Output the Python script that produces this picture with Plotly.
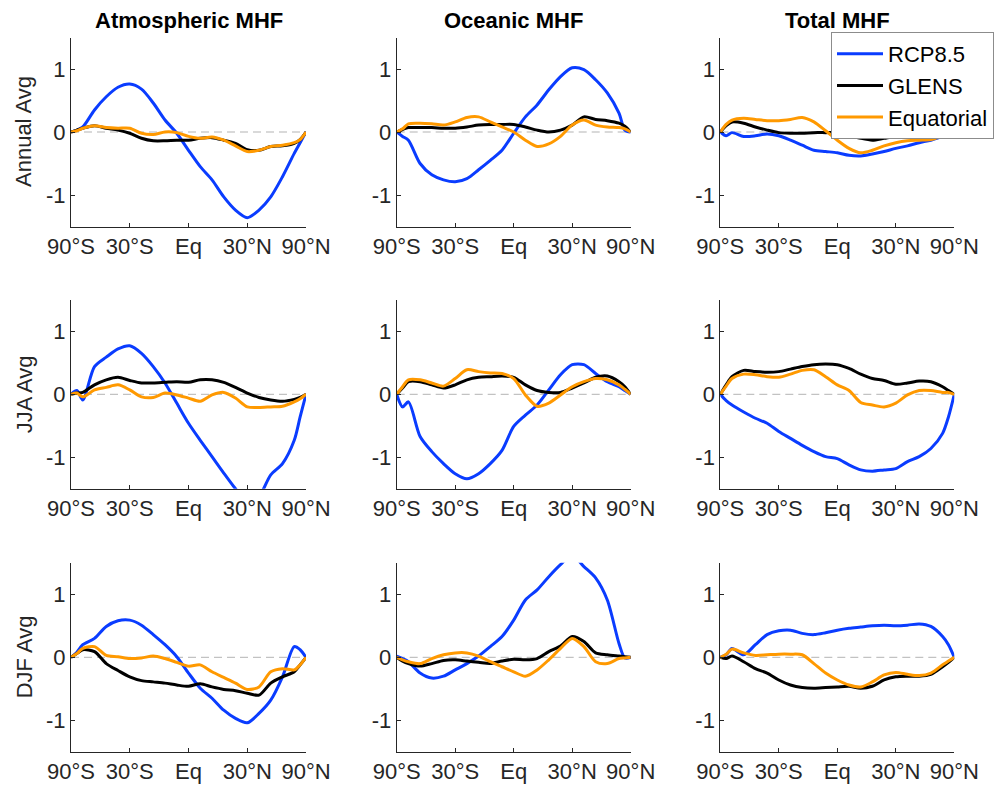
import plotly.graph_objects as go

# x positions are sin(latitude)
x_grid = [-1, -0.95, -0.9, -0.8, -0.7, -0.6, -0.5, -0.4, -0.3, -0.2, -0.1, 0,
          0.1, 0.2, 0.3, 0.4, 0.5, 0.6, 0.7, 0.8, 0.9, 0.95, 1]
tick_vals = [-1, -0.5, 0, 0.5, 1]
tick_text = ["90°S", "30°S", "Eq", "30°N", "90°N"]
col_titles = ["Atmospheric MHF", "Oceanic MHF", "Total MHF"]
row_titles = ["Annual Avg", "JJA Avg", "DJF Avg"]
series_names = ["RCP8.5", "GLENS", "Equatorial"]

# Annual
atm_ann_rcp = [0, 0.03, 0.08, 0.35, 0.56, 0.71, 0.76, 0.68, 0.46, 0.19, -0.02, -0.29,
               -0.55, -0.76, -1.03, -1.24, -1.36, -1.24, -1.03, -0.71, -0.34, -0.17, 0]
atm_ann_glens = [0, 0.03, 0.06, 0.10, 0.06, 0.03, -0.02, -0.10, -0.14, -0.14, -0.13, -0.13,
                 -0.10, -0.09, -0.13, -0.18, -0.28, -0.29, -0.23, -0.22, -0.18, -0.12, 0]
atm_ann_eq = [0, 0.02, 0.06, 0.10, 0.07, 0.06, 0.06, -0.02, -0.04, 0.0, -0.01, -0.07,
              -0.10, -0.08, -0.13, -0.22, -0.31, -0.29, -0.23, -0.21, -0.17, -0.12, 0]
ocn_ann_rcp = [0, -0.07, -0.13, -0.50, -0.68, -0.76, -0.79, -0.74, -0.60, -0.45, -0.29, -0.02,
               0.24, 0.43, 0.67, 0.88, 1.02, 0.99, 0.83, 0.62, 0.30, 0.03, 0]
ocn_ann_glens = [0, 0.04, 0.07, 0.07, 0.07, 0.06, 0.06, 0.08, 0.11, 0.12, 0.12, 0.12,
                 0.08, 0.03, 0.0, 0.03, 0.11, 0.24, 0.20, 0.18, 0.14, 0.09, 0]
ocn_ann_eq = [0, 0.05, 0.13, 0.14, 0.13, 0.11, 0.16, 0.23, 0.24, 0.16, 0.08, 0.0,
              -0.13, -0.23, -0.19, -0.07, 0.11, 0.19, 0.11, 0.08, 0.07, 0.05, 0]
tot_ann_rcp = [0, -0.06, -0.01, -0.07, -0.06, -0.03, -0.06, -0.13, -0.21, -0.29, -0.31, -0.33,
               -0.37, -0.38, -0.35, -0.31, -0.26, -0.22, -0.17, -0.13, -0.07, -0.04, 0]
tot_ann_glens = [0, 0.10, 0.16, 0.14, 0.08, 0.03, -0.01, -0.02, -0.02, -0.01, -0.01, -0.01,
                 -0.05, -0.10, -0.13, -0.10, -0.07, -0.07, -0.07, -0.07, -0.05, -0.02, 0]
tot_ann_eq = [0, 0.12, 0.19, 0.22, 0.20, 0.18, 0.18, 0.20, 0.23, 0.16, 0.02, -0.13,
              -0.26, -0.33, -0.29, -0.22, -0.17, -0.14, -0.13, -0.12, -0.06, -0.03, 0]

# JJA
atm_jja_rcp = [0, 0.06, -0.09, 0.44, 0.59, 0.72, 0.77, 0.65, 0.44, 0.18, -0.14, -0.46,
               -0.73, -0.99, -1.25, -1.50, -1.72, -1.62, -1.28, -1.10, -0.73, -0.36, 0]
atm_jja_glens = [0, 0.02, 0.03, 0.15, 0.23, 0.27, 0.22, 0.18, 0.18, 0.19, 0.20, 0.19,
                 0.23, 0.23, 0.19, 0.11, 0.02, -0.05, -0.09, -0.11, -0.08, -0.05, 0]
atm_jja_eq = [0, 0.02, -0.04, 0.07, 0.11, 0.15, 0.07, -0.04, -0.05, 0.02, -0.01, -0.06,
              -0.11, -0.01, 0.03, -0.06, -0.20, -0.21, -0.20, -0.19, -0.12, -0.07, 0]
ocn_jja_rcp = [0, -0.20, -0.12, -0.67, -0.91, -1.10, -1.26, -1.34, -1.26, -1.10, -0.89, -0.51,
               -0.33, -0.17, 0.07, 0.31, 0.47, 0.47, 0.33, 0.20, 0.12, 0.06, 0]
ocn_jja_glens = [0, 0.10, 0.20, 0.20, 0.15, 0.10, 0.15, 0.23, 0.27, 0.28, 0.29, 0.27,
                 0.15, 0.06, 0.03, 0.03, 0.10, 0.18, 0.27, 0.29, 0.20, 0.12, 0]
ocn_jja_eq = [0, 0.12, 0.23, 0.23, 0.18, 0.13, 0.25, 0.39, 0.36, 0.34, 0.33, 0.25,
              -0.01, -0.19, -0.14, -0.01, 0.12, 0.20, 0.25, 0.23, 0.15, 0.08, 0]
tot_jja_rcp = [0, -0.10, -0.17, -0.28, -0.38, -0.46, -0.59, -0.70, -0.81, -0.91, -0.99, -1.02,
               -1.12, -1.20, -1.22, -1.20, -1.18, -1.07, -0.99, -0.86, -0.62, -0.36, 0]
tot_jja_glens = [0, 0.15, 0.28, 0.38, 0.36, 0.35, 0.36, 0.40, 0.44, 0.47, 0.48, 0.47,
                 0.41, 0.32, 0.25, 0.22, 0.16, 0.18, 0.21, 0.20, 0.12, 0.06, 0]
tot_jja_eq = [0, 0.13, 0.25, 0.32, 0.31, 0.28, 0.27, 0.32, 0.38, 0.39, 0.28, 0.15,
              0.06, -0.13, -0.17, -0.20, -0.14, -0.01, 0.06, 0.06, 0.03, 0.03, 0]

# DJF
atm_djf_rcp = [0, 0.08, 0.20, 0.30, 0.49, 0.58, 0.59, 0.51, 0.36, 0.20, 0.01, -0.25,
               -0.49, -0.65, -0.84, -0.97, -1.04, -0.89, -0.68, -0.31, 0.17, 0.12, 0]
atm_djf_glens = [0, 0.06, 0.12, 0.09, -0.10, -0.21, -0.31, -0.37, -0.39, -0.41, -0.44, -0.46,
                 -0.42, -0.47, -0.51, -0.53, -0.57, -0.60, -0.41, -0.31, -0.23, -0.12, 0]
atm_djf_eq = [0, 0.06, 0.14, 0.17, 0.03, 0.01, -0.02, -0.01, 0.02, -0.02, -0.08, -0.14,
              -0.12, -0.23, -0.32, -0.41, -0.51, -0.47, -0.23, -0.18, -0.20, -0.12, 0]
ocn_djf_rcp = [0.02, -0.02, -0.07, -0.25, -0.33, -0.30, -0.20, -0.10, 0.02, 0.17, 0.33, 0.59,
               0.91, 1.07, 1.28, 1.47, 1.62, 1.44, 1.26, 0.91, 0.22, -0.01, 0]
ocn_djf_glens = [0, -0.06, -0.10, -0.14, -0.10, -0.05, -0.04, -0.06, -0.08, -0.10, -0.06, -0.03,
                 -0.04, -0.02, 0.09, 0.18, 0.33, 0.25, 0.07, 0.04, 0.02, 0.01, 0]
ocn_djf_eq = [0, -0.04, -0.07, -0.10, -0.02, 0.04, 0.07, 0.07, 0.02, -0.07, -0.15, -0.23,
              -0.30, -0.20, -0.04, 0.14, 0.30, 0.17, -0.07, -0.10, -0.02, -0.01, 0]
tot_djf_rcp = [0, 0.04, 0.14, 0.04, 0.20, 0.36, 0.42, 0.43, 0.38, 0.36, 0.39, 0.43,
               0.46, 0.48, 0.50, 0.51, 0.50, 0.51, 0.53, 0.49, 0.33, 0.20, 0]
tot_djf_glens = [0, -0.02, 0.02, -0.07, -0.18, -0.25, -0.36, -0.44, -0.48, -0.49, -0.48, -0.47,
                 -0.46, -0.49, -0.46, -0.36, -0.31, -0.30, -0.30, -0.27, -0.15, -0.08, 0]
tot_djf_eq = [0, 0.05, 0.13, 0.07, 0.03, 0.04, 0.05, 0.05, 0.04, -0.10, -0.25, -0.36,
              -0.44, -0.47, -0.39, -0.28, -0.24, -0.27, -0.29, -0.25, -0.12, -0.06, 0]

panels = [
    [atm_ann_rcp, atm_ann_glens, atm_ann_eq],
    [ocn_ann_rcp, ocn_ann_glens, ocn_ann_eq],
    [tot_ann_rcp, tot_ann_glens, tot_ann_eq],
    [atm_jja_rcp, atm_jja_glens, atm_jja_eq],
    [ocn_jja_rcp, ocn_jja_glens, ocn_jja_eq],
    [tot_jja_rcp, tot_jja_glens, tot_jja_eq],
    [atm_djf_rcp, atm_djf_glens, atm_djf_eq],
    [ocn_djf_rcp, ocn_djf_glens, ocn_djf_eq],
    [tot_djf_rcp, tot_djf_glens, tot_djf_eq],
]
colors = ["#0A3CFF", "#000000", "#FF9900"]

W, H = 1003, 788
col_px = [(71, 306), (396.7, 630.7), (720.3, 954.3)]
row_px = [(37.5, 226.5), (299.8, 488.8), (562.8, 751.8)]

FONT = "Liberation Sans, Arial, Helvetica, sans-serif"
AX = "#262626"
FS = 22

fig = go.Figure()
layout = dict(
    width=W, height=H, margin=dict(l=0, r=0, t=0, b=0, pad=0, autoexpand=False),
    paper_bgcolor="white", plot_bgcolor="white",
    font=dict(family=FONT, size=FS, color=AX),
    showlegend=True,
    legend=dict(x=831 / W, y=1 - 32 / H, xanchor="left", yanchor="top",
                bgcolor="white", bordercolor="#8c8c8c", borderwidth=1,
                font=dict(family=FONT, size=FS, color="#000000"),
                tracegroupgap=0, itemwidth=46),
    annotations=[], shapes=[],
)

for i, series in enumerate(panels):
    r, c = divmod(i, 3)
    k = "" if i == 0 else str(i + 1)
    xd = [col_px[c][0] / W, col_px[c][1] / W]
    yd = [1 - row_px[r][1] / H, 1 - row_px[r][0] / H]
    layout["xaxis" + k] = dict(
        domain=xd, anchor="y" + k, range=[-1, 1], tickvals=tick_vals, ticktext=tick_text,
        showline=True, linecolor=AX, linewidth=1, ticks="inside", ticklen=4, tickcolor=AX,
        showgrid=False, zeroline=False, automargin=False,
        tickfont=dict(size=FS, color=AX, family=FONT), fixedrange=True)
    layout["yaxis" + k] = dict(
        domain=yd, anchor="x" + k, range=[-1.5, 1.5], tickvals=[-1, 0, 1],
        ticktext=["-1", "0", "1"],
        showline=True, linecolor=AX, linewidth=1, ticks="inside", ticklen=4, tickcolor=AX,
        showgrid=False, zeroline=False, automargin=False,
        tickfont=dict(size=FS, color=AX, family=FONT), fixedrange=True)
    layout["shapes"].append(dict(
        type="line", xref="x" + k, yref="y" + k, x0=-1, x1=1, y0=0, y1=0,
        line=dict(color="#b3b3b3", width=1, dash="8px,5px"), layer="below"))
    for j, yv in enumerate(series):
        fig.add_trace(go.Scatter(
            x=x_grid, y=yv, mode="lines", name=series_names[j],
            line=dict(color=colors[j], width=3, shape="spline", smoothing=0.8),
            xaxis="x" + k, yaxis="y" + k, showlegend=(i == 0), hoverinfo="skip"))

for c in range(3):
    layout["annotations"].append(dict(
        text="<b>" + col_titles[c] + "</b>", xref="paper", yref="paper",
        x=(col_px[c][0] + col_px[c][1]) / 2 / W, y=1 - 20.5 / H,
        xanchor="center", yanchor="middle", showarrow=False,
        font=dict(family=FONT, size=FS, color="#000000")))
for r in range(3):
    layout["annotations"].append(dict(
        text=row_titles[r], xref="paper", yref="paper",
        x=24 / W, y=1 - (row_px[r][0] + row_px[r][1]) / 2 / H,
        xanchor="center", yanchor="middle", textangle=-90, showarrow=False,
        font=dict(family=FONT, size=FS, color=AX)))

fig.update_layout(**layout)
fig.write_html("out.html")
